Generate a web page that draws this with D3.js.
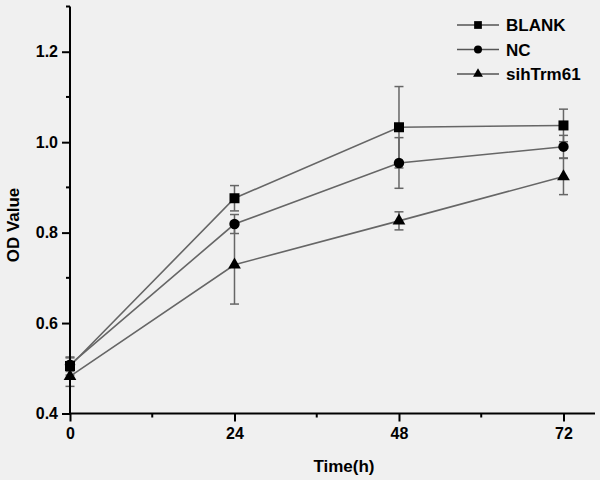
<!DOCTYPE html>
<html><head><meta charset="utf-8">
<script src="https://cdn.jsdelivr.net/npm/d3@7"></script>
<style>body{margin:0;background:#f0f0f0;}svg{display:block;}</style>
</head><body>
<script>
const times = [0, 24, 48, 72];
const seriesNames = ["BLANK", "NC", "sihTrm61"];
const blank = [0.505, 0.876, 1.033, 1.037];
const nc = [0.508, 0.819, 0.954, 0.990];
const sih = [0.482, 0.729, 0.826, 0.924];
const blankErr = [0.02, 0.028, 0.09, 0.036];
const ncErr = [0.015, 0.021, 0.056, 0.025];
const sihErr = [0.022, 0.087, 0.02, 0.04];
const xMajor = [0, 24, 48, 72];
const xMinor = [12, 36, 60];
const yMajor = [0.4, 0.6, 0.8, 1.0, 1.2];
const yMinor = [0.5, 0.7, 0.9, 1.1, 1.3];

const W = 600, H = 480;
const svg = d3.select("body").append("svg").attr("width", W).attr("height", H)
  .style("background", "#f0f0f0");
const x = d3.scaleLinear().domain([0, 76.6]).range([70, 595]);
const y = d3.scaleLinear().domain([0.4, 1.3]).range([413.5, 6.5]);
const font = "Arial, 'Liberation Sans', sans-serif";

const series = [
  {name: seriesNames[0], v: blank, e: blankErr, sym: d3.symbolSquare, size: 100},
  {name: seriesNames[1], v: nc, e: ncErr, sym: d3.symbolCircle, size: 85},
  {name: seriesNames[2], v: sih, e: sihErr, sym: d3.symbolTriangle, size: 70}
];

const g = svg.append("g");
// error bars
series.forEach(s => {
  s.v.forEach((v, i) => {
    const cx = x(times[i]);
    g.append("line").attr("x1", cx).attr("x2", cx).attr("y1", y(v - s.e[i])).attr("y2", y(v + s.e[i]))
      .attr("stroke", "#666").attr("stroke-width", 1.5);
    [v - s.e[i], v + s.e[i]].forEach(ev => {
      g.append("line").attr("x1", cx - 4.5).attr("x2", cx + 4.5).attr("y1", y(ev)).attr("y2", y(ev))
        .attr("stroke", "#666").attr("stroke-width", 1.5);
    });
  });
});
// lines
const line = d3.line().x((d, i) => x(times[i])).y(d => y(d));
series.forEach(s => {
  g.append("path").attr("d", line(s.v)).attr("fill", "none").attr("stroke", "#666").attr("stroke-width", 1.6);
});
// markers
series.forEach(s => {
  s.v.forEach((v, i) => {
    g.append("path").attr("d", d3.symbol().type(s.sym).size(s.size)())
      .attr("transform", `translate(${x(times[i])},${y(v)})`).attr("fill", "#000");
  });
});

// axes
const yAxis = svg.append("g").attr("transform", `translate(${x(0)},0)`);
yAxis.call(d3.axisLeft(y).tickValues(yMajor).tickSize(8).tickFormat(d3.format(".1f")));
yAxis.selectAll(".tick text").attr("font-family", font).attr("font-size", 16).attr("font-weight", "bold").attr("fill", "#000").attr("dx", "-1");
yAxis.call(gg => gg.select(".domain").remove());
yAxis.selectAll(".tick line").attr("stroke-width", 2).attr("stroke", "#000");
yMinor.forEach(t => yAxis.append("line").attr("x1", -4).attr("x2", 0).attr("y1", y(t)).attr("y2", y(t)).attr("stroke", "#000").attr("stroke-width", 2));
yAxis.append("line").attr("x1", 0).attr("x2", 0).attr("y1", y(1.3)).attr("y2", y(0.4) + 1).attr("stroke", "#000").attr("stroke-width", 2);

const xAxis = svg.append("g").attr("transform", `translate(0,${y(0.4)})`);
xAxis.call(d3.axisBottom(x).tickValues(xMajor).tickSize(8).tickFormat(d3.format("d")));
xAxis.call(gg => gg.select(".domain").remove());
xAxis.selectAll(".tick text").attr("font-family", font).attr("font-size", 16).attr("font-weight", "bold").attr("fill", "#000").attr("dy", "0.9em");
xAxis.selectAll(".tick line").attr("stroke-width", 2).attr("stroke", "#000");
xMinor.forEach(t => xAxis.append("line").attr("x1", x(t)).attr("x2", x(t)).attr("y1", 0).attr("y2", 4).attr("stroke", "#000").attr("stroke-width", 2));
xAxis.append("line").attr("x1", x(0) - 1).attr("x2", 595).attr("y1", 0).attr("y2", 0).attr("stroke", "#000").attr("stroke-width", 2);

// axis titles
svg.append("text").attr("x", 344).attr("y", 472).attr("text-anchor", "middle")
  .attr("font-family", font).attr("font-size", 17).attr("font-weight", "bold").text("Time(h)");
svg.append("text").attr("transform", "translate(19,225) rotate(-90)").attr("text-anchor", "middle")
  .attr("font-family", font).attr("font-size", 17).attr("font-weight", "bold").text("OD Value");

// legend
const legend = svg.append("g");
series.forEach((s, i) => {
  const ly = 25 + i * 24.5;
  legend.append("line").attr("x1", 457).attr("x2", 499).attr("y1", ly).attr("y2", ly).attr("stroke", "#555").attr("stroke-width", 1.5);
  legend.append("path").attr("d", d3.symbol().type(s.sym).size(s.size * 0.6)())
    .attr("transform", `translate(478,${ly})`).attr("fill", "#000");
  legend.append("text").attr("x", 506).attr("y", ly).attr("dy", "0.36em")
    .attr("font-family", font).attr("font-size", 17).attr("font-weight", "bold").text(s.name);
});
</script>
</body></html>
